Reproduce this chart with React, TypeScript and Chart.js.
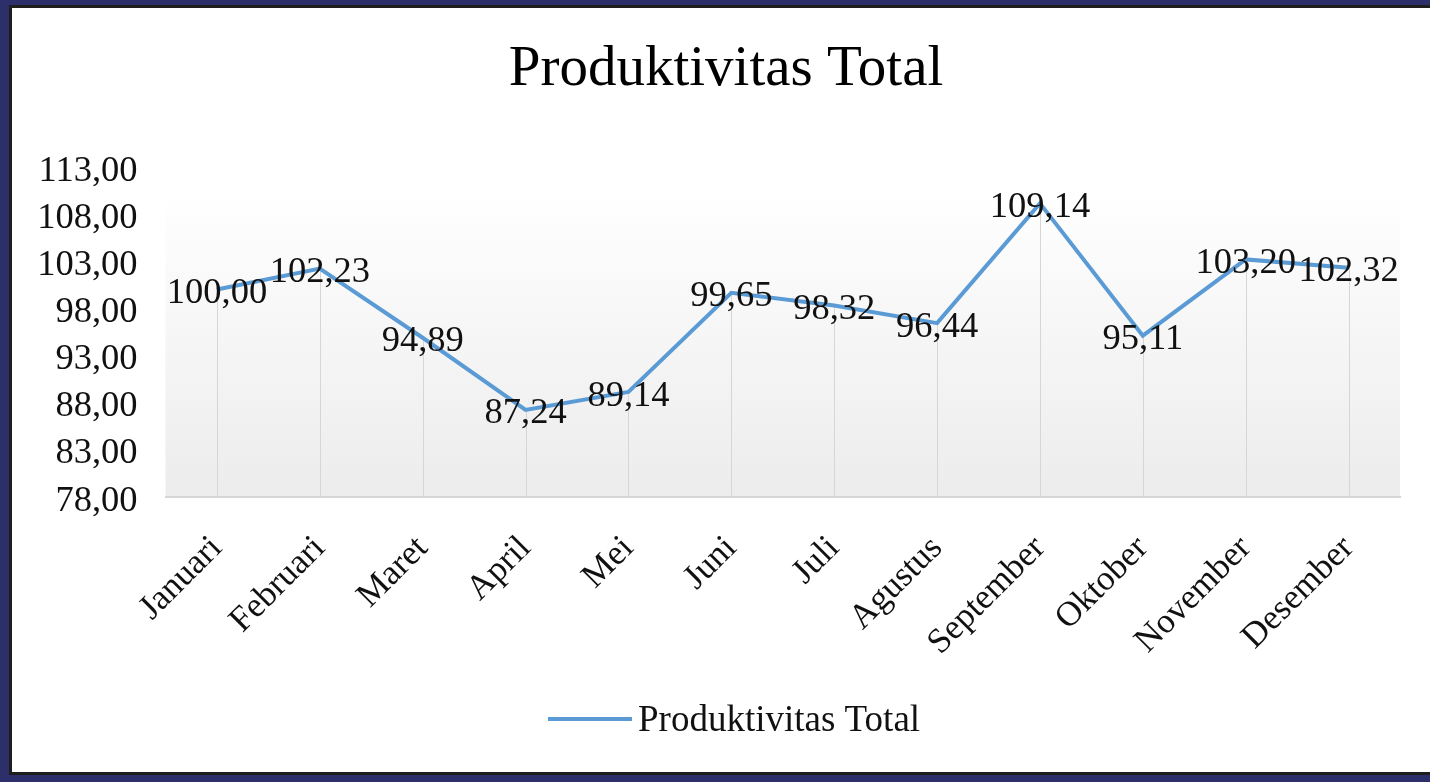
import React, { useEffect, useRef } from "react";
import { Chart, registerables } from "chart.js";

Chart.register(...registerables);

const months = [
  "Januari",
  "Februari",
  "Maret",
  "April",
  "Mei",
  "Juni",
  "Juli",
  "Agustus",
  "September",
  "Oktober",
  "November",
  "Desember",
];
const produktivitasTotal = [100.0, 102.23, 94.89, 87.24, 89.14, 99.65, 98.32, 96.44, 109.14, 95.11, 103.2, 102.32];
const yMin = 78;
const yMax = 113;
const yStep = 5;
const seriesName = "Produktivitas Total";
const chartTitle = "Produktivitas Total";

const FONT = "'Liberation Serif', 'Times New Roman', serif";
const LINE_COLOR = "#5b9bd5";
const TEXT_COLOR = "#111111";

const fmt = (v: number) => v.toFixed(2).replace(".", ",");

const backgroundPlugin = {
  id: "plotBackground",
  beforeDraw(chart: any) {
    const { ctx, chartArea } = chart;
    if (!chartArea) return;
    const { left, right, top, bottom } = chartArea;
    const g = ctx.createLinearGradient(0, top, 0, bottom);
    g.addColorStop(0, "#ffffff");
    g.addColorStop(0.07, "#ffffff");
    g.addColorStop(1, "#ececec");
    ctx.save();
    ctx.fillStyle = g;
    ctx.fillRect(left, top + 20, right - left, bottom - top - 20);
    ctx.restore();
  },
};

const titlePlugin = {
  id: "customTitle",
  afterDraw(chart: any) {
    const { ctx } = chart;
    ctx.save();
    ctx.font = `57px ${FONT}`;
    ctx.fillStyle = "#000000";
    ctx.textAlign = "center";
    ctx.textBaseline = "middle";
    ctx.fillText(chartTitle, 714, 62);
    ctx.restore();
  },
};

const dropLinesPlugin = {
  id: "dropLines",
  beforeDatasetsDraw(chart: any) {
    const { ctx, chartArea } = chart;
    const meta = chart.getDatasetMeta(0);
    ctx.save();
    ctx.strokeStyle = "#d6d6d6";
    ctx.lineWidth = 1;
    meta.data.forEach((pt: any) => {
      const x = Math.round(pt.x) + 0.5;
      ctx.beginPath();
      ctx.moveTo(x, pt.y);
      ctx.lineTo(x, chartArea.bottom);
      ctx.stroke();
    });
    ctx.restore();
  },
};

const dataLabelsPlugin = {
  id: "dataLabels",
  afterDatasetsDraw(chart: any) {
    const { ctx } = chart;
    const meta = chart.getDatasetMeta(0);
    const values = chart.data.datasets[0].data as number[];
    ctx.save();
    ctx.font = `36.5px ${FONT}`;
    ctx.fillStyle = TEXT_COLOR;
    ctx.textAlign = "center";
    ctx.textBaseline = "middle";
    meta.data.forEach((pt: any, i: number) => {
      ctx.fillText(fmt(values[i]), pt.x, pt.y + 4);
    });
    ctx.restore();
  },
};

const customLegendPlugin = {
  id: "customLegend",
  afterDraw(chart: any) {
    const { ctx } = chart;
    const ds = chart.data.datasets[0];
    const y = 711;
    const x0 = 536;
    const lineW = 84;
    ctx.save();
    ctx.strokeStyle = ds.borderColor;
    ctx.lineWidth = 4;
    ctx.beginPath();
    ctx.moveTo(x0, y);
    ctx.lineTo(x0 + lineW, y);
    ctx.stroke();
    ctx.font = `37px ${FONT}`;
    ctx.fillStyle = TEXT_COLOR;
    ctx.textAlign = "left";
    ctx.textBaseline = "middle";
    ctx.fillText(ds.label, x0 + lineW + 6, y + 2);
    ctx.restore();
  },
};

export default function App() {
  const canvasRef = useRef<HTMLCanvasElement | null>(null);

  useEffect(() => {
    if (!canvasRef.current) return;
    const chart = new Chart(canvasRef.current, {
      type: "line",
      data: {
        labels: months,
        datasets: [
          {
            label: seriesName,
            data: produktivitasTotal,
            borderColor: LINE_COLOR,
            backgroundColor: LINE_COLOR,
            borderWidth: 4,
            pointRadius: 0,
            pointHoverRadius: 0,
            tension: 0,
            fill: false,
          },
        ],
      },
      options: {
        animation: false,
        responsive: true,
        maintainAspectRatio: false,
        layout: { padding: { left: 0, right: 30, top: 159, bottom: 80 } },
        plugins: {
          legend: { display: false },
          tooltip: { enabled: false },
          title: { display: false },
        },
        scales: {
          x: {
            offset: true,
            grid: { display: true, drawOnChartArea: false, drawTicks: false },
            border: { display: true, color: "#d6d6d6", width: 2 },
            ticks: {
              color: TEXT_COLOR,
              font: { family: FONT, size: 35 },
              maxRotation: 45,
              minRotation: 45,
              autoSkip: false,
              padding: 31,
            },
            afterFit: (scale: any) => {
              scale.height = 195;
            },
          },
          y: {
            min: yMin,
            max: yMax,
            grid: { display: false, drawTicks: false },
            border: { display: false },
            ticks: {
              stepSize: yStep,
              color: TEXT_COLOR,
              font: { family: FONT, size: 36.5 },
              padding: 28,
              labelOffset: 4,
              callback: (v: any) => fmt(Number(v)),
            },
            afterFit: (scale: any) => {
              scale.width = 153.5;
            },
          },
        },
      },
      plugins: [backgroundPlugin, dropLinesPlugin, dataLabelsPlugin, customLegendPlugin, titlePlugin],
    });
    return () => chart.destroy();
  }, []);

  return (
    <div
      style={{
        position: "fixed",
        left: 0,
        top: 0,
        width: 1430,
        height: 782,
        background: "#2d2f6a",
        overflow: "hidden",
      }}
    >
      <div
        style={{
          position: "absolute",
          left: 9,
          top: 5,
          width: 1421,
          height: 770,
          boxSizing: "border-box",
          borderTop: "3px solid #1e1e1e",
          borderLeft: "3px solid #1e1e1e",
          borderBottom: "3px solid #1e1e1e",
          background: "#ffffff",
        }}
      >
        <div style={{ position: "relative", width: 1418, height: 764 }}>
          <canvas ref={canvasRef} />
        </div>
      </div>
    </div>
  );
}
